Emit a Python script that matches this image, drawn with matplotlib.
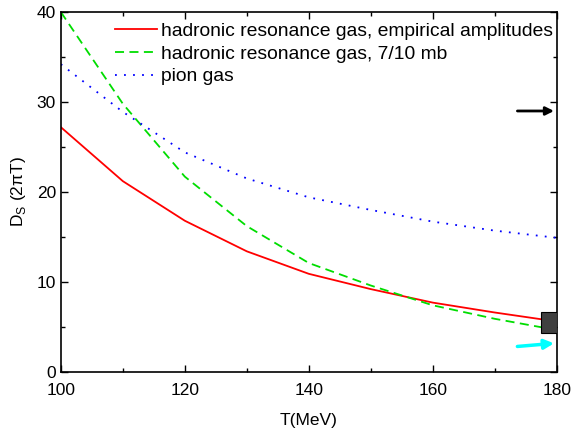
import matplotlib.pyplot as plt
import matplotlib.patches as mpatches
from matplotlib.ticker import MultipleLocator

plt.rcParams['font.family'] = ['Liberation Sans', 'DejaVu Sans']

T = [100, 110, 120, 130, 140, 150, 160, 170, 178]
hrg_emp = [27.2, 21.2, 16.8, 13.4, 10.9, 9.2, 7.7, 6.6, 5.8]
hrg_const = [40.0, 29.8, 21.7, 16.2, 12.1, 9.6, 7.4, 5.9, 4.9]

T_pion = [100, 110, 120, 130, 140, 150, 160, 170, 180]
pion = [34.2, 28.9, 24.4, 21.5, 19.4, 18.0, 16.7, 15.7, 14.9]

labels = ["hadronic resonance gas, empirical amplitudes",
          "hadronic resonance gas, 7/10 mb",
          "pion gas"]

fig = plt.figure(figsize=(5.74, 4.37), dpi=100)
ax = fig.add_axes([0.106, 0.149, 0.864, 0.8235])

ax.plot(T, hrg_emp, color='red', lw=1.3, label=labels[0])
ax.plot(T, hrg_const, color='#00dd00', lw=1.3, ls=(0, (5, 3)), label=labels[1])
ax.plot(T_pion, pion, color='blue', lw=1.3, ls=(0, (1, 4)), label=labels[2])

# markers near T_c
ax.annotate('', xy=(180, 29.0), xytext=(173.2, 29.0),
            arrowprops=dict(arrowstyle='-|>', color='black', lw=2, mutation_scale=12),
            annotation_clip=False)
ax.annotate('', xy=(180, 3.2), xytext=(173.2, 2.8),
            arrowprops=dict(arrowstyle='-|>', color='cyan', lw=2.5, mutation_scale=14),
            annotation_clip=False)
ax.add_patch(mpatches.Rectangle((177.4, 4.3), 2.6, 2.4, facecolor='#404040',
                                edgecolor='black', lw=0.8, zorder=5))

ax.set_xlim(100, 180)
ax.set_ylim(0, 40)
ax.xaxis.set_major_locator(MultipleLocator(20))
ax.xaxis.set_minor_locator(MultipleLocator(10))
ax.yaxis.set_major_locator(MultipleLocator(10))
ax.yaxis.set_minor_locator(MultipleLocator(5))
ax.tick_params(which='both', direction='in', top=True, right=True, labelsize=12.5, width=1)
ax.tick_params(axis='x', pad=8)
ax.tick_params(which='major', length=5)
ax.tick_params(which='minor', length=3)
for s in ax.spines.values():
    s.set_linewidth(1.2)

ax.set_xlabel('T(MeV)', fontsize=12.5, labelpad=11)
ax.set_ylabel('D$_\\mathregular{S}$ (2\u03c0T)', fontsize=12.5, labelpad=6)

ax.legend(loc='upper left', bbox_to_anchor=(0.109, 0.972), frameon=False, fontsize=13.9,
          handlelength=2.2, handletextpad=0.2, labelspacing=0.28, borderaxespad=0,
          borderpad=0)

fig.savefig('out.png', dpi=100)
